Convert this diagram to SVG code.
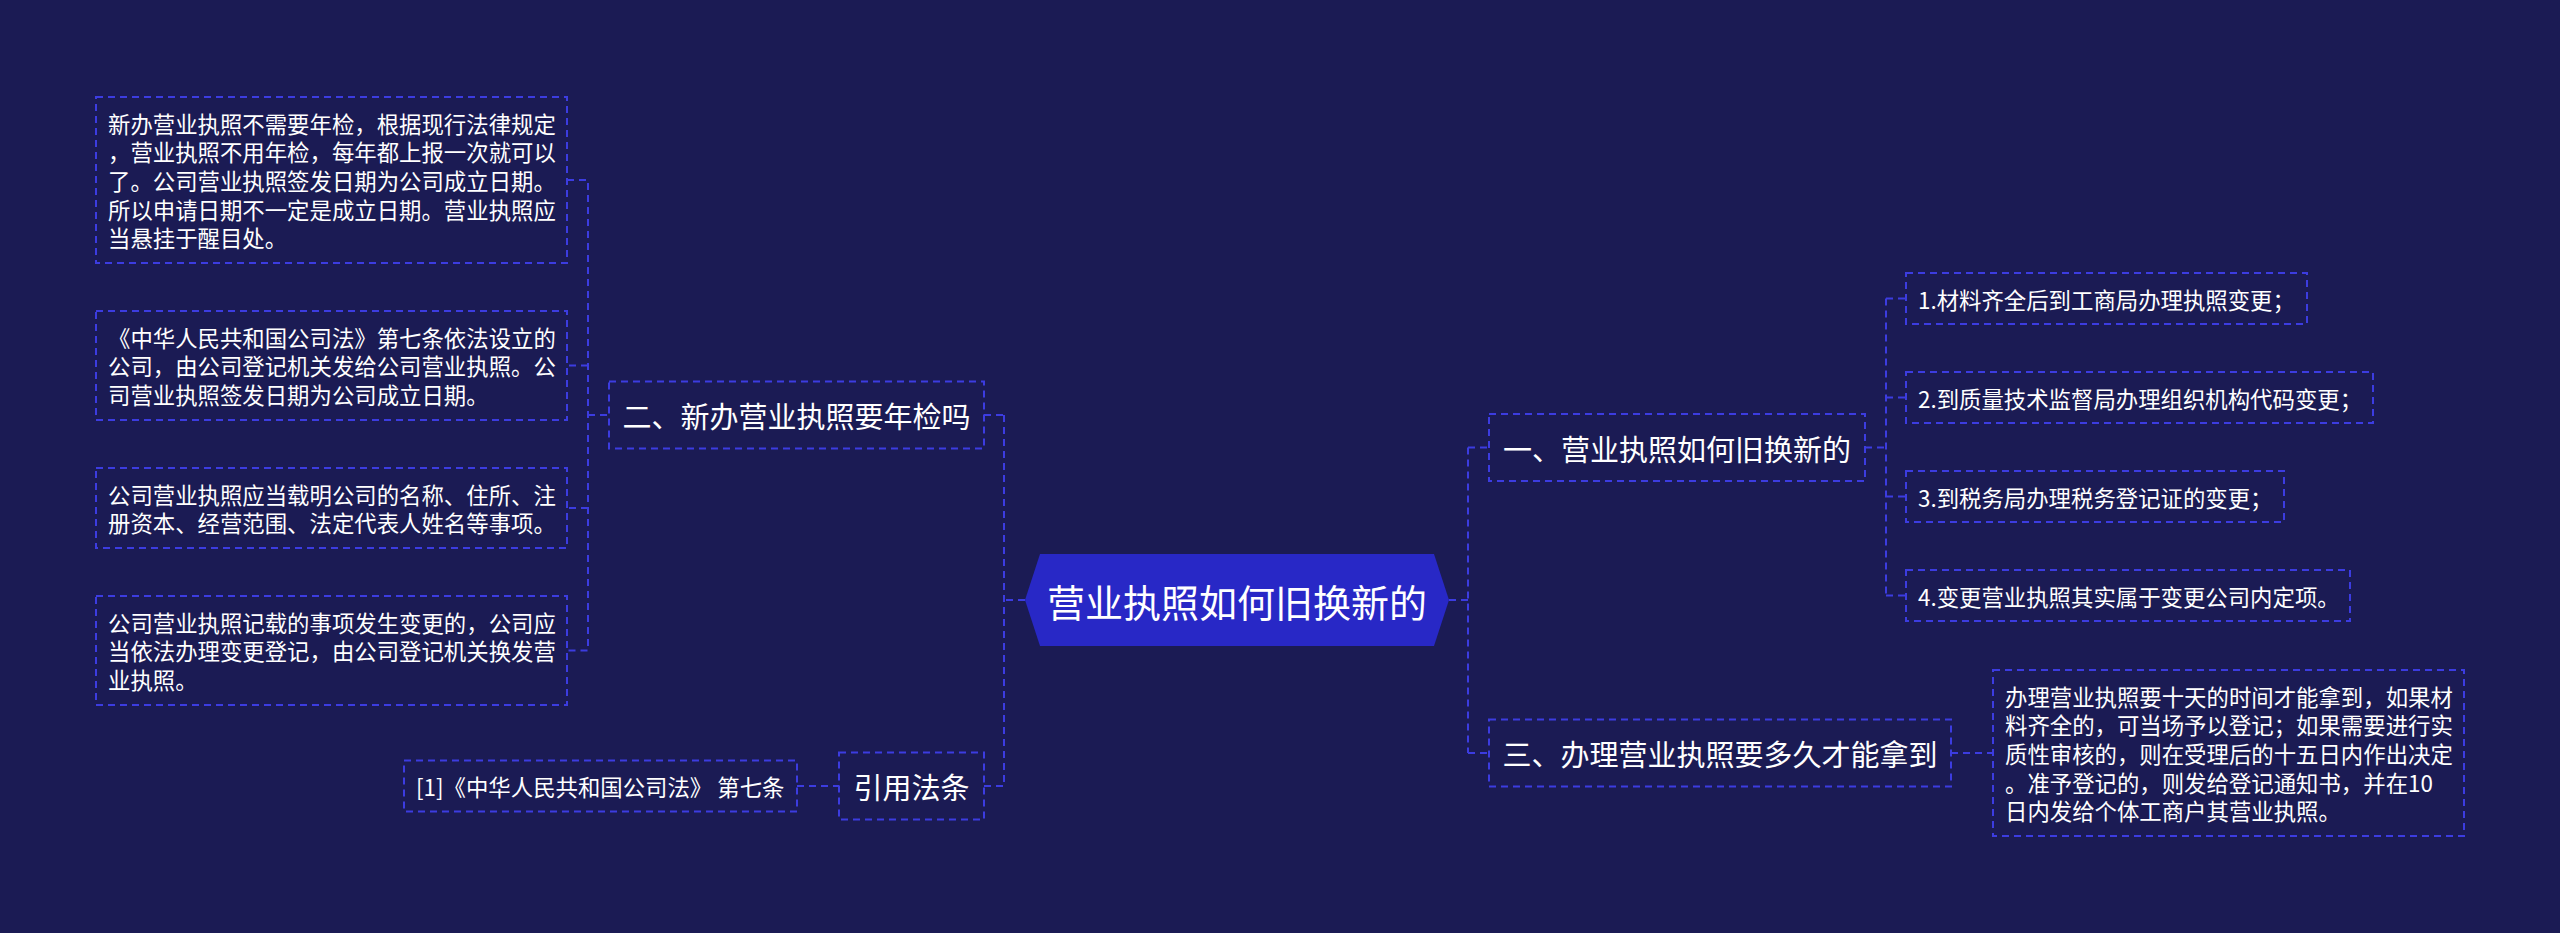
<svg xmlns="http://www.w3.org/2000/svg" width="2560" height="933" viewBox="0 0 2560 933">
<style>
.bg{fill:#1b1b54}
.box{fill:none;stroke:#3c3ce0;stroke-width:2;stroke-dasharray:7 5}
.conn{fill:none;stroke:#3c3ce0;stroke-width:2;stroke-dasharray:7 5}
.t{font-family:"Noto Sans CJK SC","Noto Sans",sans-serif;fill:#ffffff;dominant-baseline:central}
.s{font-size:22.4px}
.m{font-size:29px;text-anchor:middle}
.c{font-size:38px;text-anchor:middle}
</style>
<rect class="bg" x="0" y="0" width="2560" height="933"/>
<g id="connectors">
<path class="conn" d="M567 180 H588 V650.5 H567 M588 365.5 H567 M588 508 H567 M588 415 H609"/>
<path class="conn" d="M1025 600 H1004 M1004 415 V786 M984 415 H1004 M984 786 H1004"/>
<path class="conn" d="M797 786 H839"/>
<path class="conn" d="M1449 600 H1468 M1468 447.5 V753 M1468 447.5 H1489 M1468 753 H1489"/>
<path class="conn" d="M1865 447.5 H1886 M1886 298.5 V595.5 M1886 298.5 H1906 M1886 397.5 H1906 M1886 496.5 H1906 M1886 595.5 H1906"/>
<path class="conn" d="M1951 753 H1993"/>
</g>
<g id="root">
<polygon points="1025,600 1040,554 1434,554 1449,600 1434,646 1040,646" fill="#2828c6"/>
<text class="t c" x="1237" y="600">营业执照如何旧换新的</text>
</g>
<g id="n1">
<rect class="box" x="1489" y="414" width="376" height="67"/>
<text class="t m" x="1677" y="447.5">一、营业执照如何旧换新的</text>
</g>
<g id="n1-1">
<rect class="box" x="1906" y="273" width="401" height="51"/>
<text class="t s" x="1918" y="298.5">1.材料齐全后到工商局办理执照变更；</text>
</g>
<g id="n1-2">
<rect class="box" x="1906" y="372" width="467" height="51"/>
<text class="t s" x="1918" y="397.5">2.到质量技术监督局办理组织机构代码变更；</text>
</g>
<g id="n1-3">
<rect class="box" x="1906" y="471" width="378" height="51"/>
<text class="t s" x="1918" y="496.5">3.到税务局办理税务登记证的变更；</text>
</g>
<g id="n1-4">
<rect class="box" x="1906" y="570" width="444" height="51"/>
<text class="t s" x="1918" y="595.5">4.变更营业执照其实属于变更公司内定项。</text>
</g>
<g id="n3">
<rect class="box" x="1489" y="719.5" width="462" height="67"/>
<text class="t m" x="1720" y="753">三、办理营业执照要多久才能拿到</text>
</g>
<g id="n3-1">
<rect class="box" x="1993" y="670" width="471" height="166"/>
<text class="t s" x="2005" y="695.5">办理营业执照要十天的时间才能拿到，如果材</text>
<text class="t s" x="2005" y="724.2">料齐全的，可当场予以登记；如果需要进行实</text>
<text class="t s" x="2005" y="752.8">质性审核的，则在受理后的十五日内作出决定</text>
<text class="t s" x="2005" y="781.5">。准予登记的，则发给登记通知书，并在10</text>
<text class="t s" x="2005" y="810.2">日内发给个体工商户其营业执照。</text>
</g>
<g id="n2">
<rect class="box" x="609" y="381.5" width="375" height="67"/>
<text class="t m" x="796.5" y="415">二、新办营业执照要年检吗</text>
</g>
<g id="n2-1">
<rect class="box" x="96" y="97" width="471" height="166"/>
<text class="t s" x="108" y="122.5">新办营业执照不需要年检，根据现行法律规定</text>
<text class="t s" x="108" y="151.2">，营业执照不用年检，每年都上报一次就可以</text>
<text class="t s" x="108" y="179.8">了。公司营业执照签发日期为公司成立日期。</text>
<text class="t s" x="108" y="208.5">所以申请日期不一定是成立日期。营业执照应</text>
<text class="t s" x="108" y="237.2">当悬挂于醒目处。</text>
</g>
<g id="n2-2">
<rect class="box" x="96" y="311" width="471" height="109"/>
<text class="t s" x="108" y="336.5">《中华人民共和国公司法》第七条依法设立的</text>
<text class="t s" x="108" y="365.2">公司，由公司登记机关发给公司营业执照。公</text>
<text class="t s" x="108" y="393.8">司营业执照签发日期为公司成立日期。</text>
</g>
<g id="n2-3">
<rect class="box" x="96" y="468" width="471" height="80"/>
<text class="t s" x="108" y="493.5">公司营业执照应当载明公司的名称、住所、注</text>
<text class="t s" x="108" y="522.2">册资本、经营范围、法定代表人姓名等事项。</text>
</g>
<g id="n2-4">
<rect class="box" x="96" y="596" width="471" height="109"/>
<text class="t s" x="108" y="621.5">公司营业执照记载的事项发生变更的，公司应</text>
<text class="t s" x="108" y="650.2">当依法办理变更登记，由公司登记机关换发营</text>
<text class="t s" x="108" y="678.8">业执照。</text>
</g>
<g id="n4">
<rect class="box" x="839" y="752.5" width="145" height="67"/>
<text class="t m" x="911.5" y="786">引用法条</text>
</g>
<g id="n4-1">
<rect class="box" x="404" y="760.5" width="393" height="51"/>
<text class="t s" x="416" y="786">[1]《中华人民共和国公司法》 第七条</text>
</g>
</svg>
